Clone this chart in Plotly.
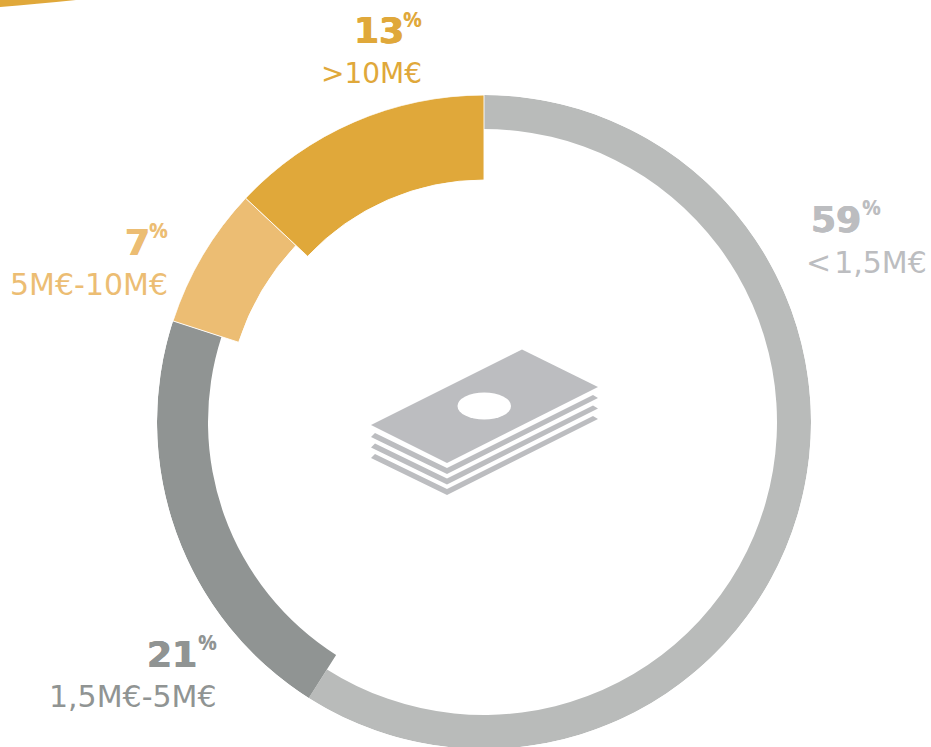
import plotly.graph_objects as go

# Funding bands, clockwise from twelve o'clock
bands = ["<\u200a1,5M€", "1,5M€-5M€", "5M€-10M€", ">10M€"]
shares = [59, 21, 7, 13]
ring_inner = [293, 276, 258, 242]
ring_outer = [327, 327, 327, 327]
band_colors = ["#b9bbba", "#909493", "#ecbd73", "#e0a83a"]
text_colors = ["#bcbdc0", "#909493", "#ecbd73", "#e0a83a"]
seam_widths = [0, 0, 0.9, 0.9]

W, H = 931, 760
CX, CY, R = 484, 422, 327


def fx(x):
    return x / W


def fy(y):
    return 1 - y / H


def poly(points, close=True):
    d = "M" + " L".join(f"{fx(x):.5f},{fy(y):.5f}" for x, y in points)
    return d + (" Z" if close else "")


# Sector layout derived from the shares
widths = [s * 3.6 for s in shares]
centers, running = [], 0
for w in widths:
    centers.append(running + w / 2)
    running += w

fig = go.Figure(
    go.Barpolar(
        theta=centers,
        width=widths,
        base=ring_inner,
        r=[o - i for o, i in zip(ring_outer, ring_inner)],
        marker=dict(color=band_colors, line=dict(color="#ffffff", width=seam_widths)),
        hoverinfo="skip",
    )
)

# Stack of banknotes in the middle of the ring
note_color = "#bcbdc0"
shapes = [
    dict(type="path", xref="paper", yref="paper", line_width=0, fillcolor=note_color,
         path=poly([(371, 425), (522, 349.5), (598, 387), (447, 463)])),
    dict(type="circle", xref="paper", yref="paper", line_width=0, fillcolor="#ffffff",
         x0=fx(457.5), x1=fx(511), y0=fy(419.5), y1=fy(392.5)),
]
for offset in (0, 10.5, 21):
    shapes.append(dict(
        type="path", xref="paper", yref="paper", line_width=0, fillcolor=note_color,
        path=poly([(375, 433 + offset), (447, 468 + offset), (593, 395 + offset),
                   (598, 398 + offset), (447, 474 + offset), (371, 437 + offset)]),
    ))
# Sliver of a neighbouring ring cut by the top edge
shapes.append(dict(
    type="path", xref="paper", yref="paper", line_width=0, fillcolor="#e0a83a",
    path=f"M{fx(0)},{fy(7)} Q{fx(36)},{fy(4)} {fx(76)},{fy(0)} L{fx(0)},{fy(0)} Z",
))

# Label blocks: figure, percent sign and band name, with their anchor points
number_x = [810, 198, 150.5, 404.5]
number_anchor = ["left", "right", "right", "right"]
number_y = [198, 633, 221, 9]
sign_x = [861, 218, 169, 423]
sign_y = [192, 627, 215, 4]
band_right = [928, 218, 169, 423]
band_y = [244, 678, 266, 56]
band_size = [30, 30, 30, 28]
FONT = "DejaVu Sans"
annotations = []
for i, band in enumerate(bands):
    color = text_colors[i]
    annotations.append(dict(
        text=f"<b>{shares[i]}</b>", x=fx(number_x[i]), y=fy(number_y[i]), xref="paper", yref="paper",
        xanchor=number_anchor[i], yanchor="top", showarrow=False, borderpad=0,
        font=dict(family=FONT, size=36, color=color,
                  shadow=f"0.6px 0 0 {color}, -0.6px 0 0 {color}"),
    ))
    annotations.append(dict(
        text="<b>%</b>", x=fx(sign_x[i]), y=fy(sign_y[i]), xref="paper", yref="paper",
        xanchor="left" if i == 0 else "right", yanchor="top", showarrow=False, borderpad=0,
        font=dict(family="Open Sans", size=21, color=color),
    ))
    annotations.append(dict(
        text=band, x=fx(band_right[i]), y=fy(band_y[i]), xref="paper", yref="paper",
        xanchor="right", yanchor="top", showarrow=False, borderpad=0,
        font=dict(family=FONT, size=band_size[i], color=color),
    ))

fig.update_layout(
    width=W,
    height=H,
    margin=dict(l=0, r=0, t=0, b=0),
    paper_bgcolor="#ffffff",
    showlegend=False,
    shapes=shapes,
    annotations=annotations,
    polar=dict(
        domain=dict(x=[fx(CX - R), fx(CX + R)], y=[fy(CY + R), fy(CY - R)]),
        bgcolor="rgba(0,0,0,0)",
        barmode="overlay",
        radialaxis=dict(visible=False, range=[0, R]),
        angularaxis=dict(visible=False, direction="clockwise", rotation=90),
    ),
)

fig.write_html("out.html", post_script="document.body.style.overflow='hidden';")
